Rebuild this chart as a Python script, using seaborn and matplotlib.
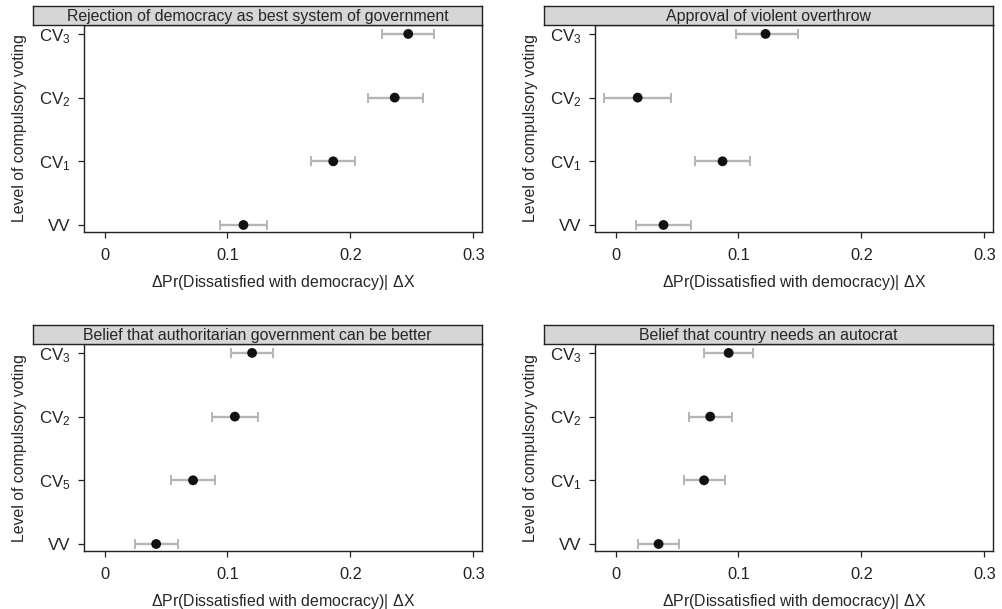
import numpy as np
import pandas as pd
import matplotlib
matplotlib.use("Agg")
import matplotlib.pyplot as plt
import seaborn as sns

# Panel titles
titles = [
    "Rejection of democracy as best system of government",
    "Approval of violent overthrow",
    "Belief that authoritarian government can be better",
    "Belief that country needs an autocrat",
]

# Level labels, bottom to top
levels_std = ["VV", "CV$_1$", "CV$_2$", "CV$_3$"]
levels_auth = ["VV", "CV$_5$", "CV$_2$", "CV$_3$"]

# Point estimates and interval bounds (bottom to top: VV, CV1, CV2, CV3)
est_reject = [0.113, 0.186, 0.236, 0.247]
lo_reject = [0.094, 0.168, 0.214, 0.226]
hi_reject = [0.132, 0.204, 0.259, 0.268]

est_violent = [0.039, 0.087, 0.018, 0.122]
lo_violent = [0.017, 0.065, -0.009, 0.098]
hi_violent = [0.061, 0.109, 0.045, 0.148]

est_auth = [0.042, 0.072, 0.106, 0.120]
lo_auth = [0.025, 0.054, 0.087, 0.103]
hi_auth = [0.060, 0.090, 0.125, 0.137]

est_autocrat = [0.035, 0.072, 0.077, 0.092]
lo_autocrat = [0.018, 0.056, 0.060, 0.072]
hi_autocrat = [0.052, 0.089, 0.095, 0.112]

panels = [
    (titles[0], levels_std, est_reject, lo_reject, hi_reject),
    (titles[1], levels_std, est_violent, lo_violent, hi_violent),
    (titles[2], levels_auth, est_auth, lo_auth, hi_auth),
    (titles[3], levels_std, est_autocrat, lo_autocrat, hi_autocrat),
]

sns.set_style("ticks")
plt.rcParams['font.family'] = ['Liberation Sans', 'DejaVu Sans']
plt.rcParams['mathtext.default'] = 'regular'
plt.rcParams['axes.edgecolor'] = '#222222'
plt.rcParams['xtick.color'] = '#222222'
plt.rcParams['ytick.color'] = '#222222'

W, H = 1003, 609
fig = plt.figure(figsize=(W / 100, H / 100), dpi=100)

# pixel boxes: (axes left, right, top, bottom, strip left)
boxes = [
    (84, 482, 25, 232, 33),
    (595, 993, 25, 232, 544),
    (84, 482, 344, 551, 33),
    (595, 993, 344, 551, 544),
]

fs = 11.4
for (title, levels, est, lo, hi), (l, r, t, b, sl) in zip(panels, boxes):
    ax = fig.add_axes([l / W, 1 - b / H, (r - l) / W, (b - t) / H])
    df = pd.DataFrame({"pos": np.arange(len(levels)), "est": est,
                       "lo": lo, "hi": hi})
    ax.errorbar(df["est"], df["pos"],
                xerr=[df["est"] - df["lo"], df["hi"] - df["est"]],
                fmt="none", ecolor="#b5b5b5", elinewidth=1.7,
                capsize=3.5, capthick=1.4, zorder=1)
    sns.scatterplot(data=df, x="est", y="pos", ax=ax, color="#111111",
                    s=50, edgecolor="none", zorder=2)

    ax.set_xlim(-0.0167, 0.307)
    ax.set_ylim(-0.11, 3.14)
    ax.set_xticks([0, 0.1, 0.2, 0.3])
    ax.set_xticklabels(["0", "0.1", "0.2", "0.3"], fontsize=fs + 0.4)
    ax.set_yticks(df["pos"])
    ax.set_yticklabels(levels, fontsize=fs + 0.8)
    ax.tick_params(length=4.5, width=0.9, pad=5)
    ax.tick_params(axis="x", pad=7)
    ax.set_xlabel(r"$\Delta$Pr(Dissatisfied with democracy)| $\Delta$X",
                  fontsize=fs, labelpad=7)
    ax.set_ylabel("Level of compulsory voting", fontsize=fs, labelpad=9)
    for sp in ax.spines.values():
        sp.set_linewidth(1.0)

    # strip header
    sax = fig.add_axes([sl / W, 1 - t / H, (r - sl) / W, 19 / H])
    sax.set_facecolor("#d6d6d6")
    sax.set_xticks([])
    sax.set_yticks([])
    for sp in sax.spines.values():
        sp.set_linewidth(1.0)
        sp.set_color("#222222")
    sax.text(0.5, 0.45, title, ha="center", va="center",
             fontsize=fs, transform=sax.transAxes)

fig.savefig("out.png", dpi=100)
